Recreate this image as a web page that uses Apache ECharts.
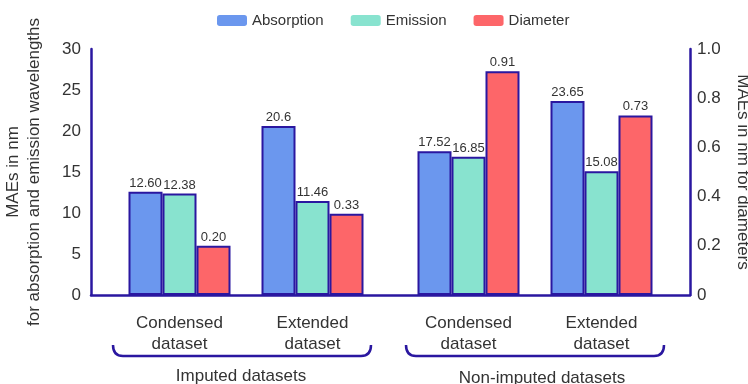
<!DOCTYPE html>
<html>
<head>
<meta charset="utf-8">
<script src="https://cdn.jsdelivr.net/npm/echarts@6/dist/echarts.min.js"></script>
<style>html,body{margin:0;padding:0;background:#fff}#c{width:748px;height:384px}</style>
</head>
<body>
<div id="c"></div>
<script>
// ---- data ----
const categories = ['Condensed\ndataset', 'Extended\ndataset'];
const groupNames = ['Imputed datasets', 'Non-imputed datasets'];
const seriesNames = ['Absorption', 'Emission', 'Diameter'];
const absorptionImputed = [12.60, 20.6];
const emissionImputed = [12.38, 11.46];
const diameterImputed = [0.20, 0.33];
const absorptionNonImputed = [17.52, 23.65];
const emissionNonImputed = [16.85, 15.08];
const diameterNonImputed = [0.91, 0.73];
const absorptionImputedLabels = ['12.60', '20.6'];
const emissionImputedLabels = ['12.38', '11.46'];
const diameterImputedLabels = ['0.20', '0.33'];
const absorptionNonImputedLabels = ['17.52', '23.65'];
const emissionNonImputedLabels = ['16.85', '15.08'];
const diameterNonImputedLabels = ['0.91', '0.73'];
const leftTicks = {min: 0, max: 30, interval: 5};
const rightTicks = {min: 0, max: 1, interval: 0.2};

// ---- styles ----
const FONT = 'Liberation Sans, Arial, sans-serif';
const NAVY = '#2a17a0';
const TXT = '#333';
const colors = ['#6b97ee', '#88e3cf', '#fd6669'];

const chart = echarts.init(document.getElementById('c'), null, {renderer: 'canvas'});

const gridBase = {top: 49, bottom: 89, containLabel: false, outerBoundsMode: 'none'};
function bar(name, xi, yi, data, labels, color) {
  return {
    type: 'bar', name, xAxisIndex: xi, yAxisIndex: yi, data,
    barWidth: 34, barGap: '0%',
    itemStyle: {color, borderColor: NAVY, borderWidth: 2},
    label: {show: true, position: 'top', distance: 2, color: TXT, fontFamily: FONT, fontSize: 13,
      formatter: p => labels[p.dataIndex]},
    z: 3
  };
}
function hiddenY(grid, t) {
  return {type: 'value', gridIndex: grid, min: t.min, max: t.max, interval: t.interval, show: false};
}
function brace(x1, x2, yTop, yBot, r) {
  const st = {stroke: NAVY, lineWidth: 2.5, fill: 'none'};
  return [
    {type: 'bezierCurve', shape: {x1: x1, y1: yTop, cpx1: x1, cpy1: yBot, x2: x1 + r, y2: yBot}, style: st},
    {type: 'line', shape: {x1: x1 + r, y1: yBot, x2: x2 - r, y2: yBot}, style: st},
    {type: 'bezierCurve', shape: {x1: x2 - r, y1: yBot, cpx1: x2, cpy1: yBot, x2: x2, y2: yTop}, style: st}
  ];
}
const catLabel = {margin: 18, fontSize: 17, lineHeight: 21, color: TXT, fontFamily: FONT};

chart.setOption({
  animation: false,
  textStyle: {fontFamily: FONT},
  legend: {
    data: seriesNames, left: 212, top: 8, itemWidth: 30, itemHeight: 11, itemGap: 27,
    itemStyle: {borderWidth: 0},
    textStyle: {fontSize: 15, color: TXT, fontFamily: FONT}
  },
  grid: [
    {left: 91, right: 58, ...gridBase},
    {left: 113, width: 266, ...gridBase},
    {left: 402, width: 266, ...gridBase}
  ],
  xAxis: [
    {type: 'category', gridIndex: 0, data: [''], axisLine: {lineStyle: {color: NAVY, width: 2.5}},
      axisTick: {show: false}, axisLabel: {show: false}},
    {type: 'category', gridIndex: 1, data: categories, axisLine: {show: false}, axisTick: {show: false}, axisLabel: catLabel},
    {type: 'category', gridIndex: 2, data: categories, axisLine: {show: false}, axisTick: {show: false}, axisLabel: catLabel}
  ],
  yAxis: [
    {type: 'value', gridIndex: 0, position: 'left', min: leftTicks.min, max: leftTicks.max, interval: leftTicks.interval,
      axisLine: {show: true, lineStyle: {color: NAVY, width: 2.5}}, axisTick: {show: false}, splitLine: {show: false},
      axisLabel: {fontSize: 17, color: TXT, margin: 10, fontFamily: FONT},
      name: 'MAEs in nm\nfor absorption and emission wavelengths', nameLocation: 'middle', nameRotate: 90, nameGap: 46,
      nameTextStyle: {fontSize: 17, color: TXT, lineHeight: 21, fontFamily: FONT}},
    {type: 'value', gridIndex: 0, position: 'right', min: rightTicks.min, max: rightTicks.max, interval: rightTicks.interval,
      axisLine: {show: true, lineStyle: {color: NAVY, width: 2.5}}, axisTick: {show: false}, splitLine: {show: false},
      axisLabel: {fontSize: 17, color: TXT, margin: 7, fontFamily: FONT, formatter: v => v === 0 ? '0' : v.toFixed(1)},
      name: 'MAEs in nm for diameters', nameLocation: 'middle', nameRotate: -90, nameGap: 44,
      nameTextStyle: {fontSize: 17, color: TXT, fontFamily: FONT}},
    hiddenY(1, leftTicks), hiddenY(1, rightTicks),
    hiddenY(2, leftTicks), hiddenY(2, rightTicks)
  ],
  series: [
    bar(seriesNames[0], 1, 2, absorptionImputed, absorptionImputedLabels, colors[0]),
    bar(seriesNames[1], 1, 2, emissionImputed, emissionImputedLabels, colors[1]),
    bar(seriesNames[2], 1, 3, diameterImputed, diameterImputedLabels, colors[2]),
    bar(seriesNames[0], 2, 4, absorptionNonImputed, absorptionNonImputedLabels, colors[0]),
    bar(seriesNames[1], 2, 4, emissionNonImputed, emissionNonImputedLabels, colors[1]),
    bar(seriesNames[2], 2, 5, diameterNonImputed, diameterNonImputedLabels, colors[2])
  ],
  graphic: [
    ...brace(113, 371, 345, 356, 10),
    ...brace(406, 664, 345, 356, 10),
    {type: 'text', x: 241, y: 376, style: {text: groupNames[0], fill: TXT, font: '17px ' + FONT, align: 'center', verticalAlign: 'middle'}},
    {type: 'text', x: 542, y: 378, style: {text: groupNames[1], fill: TXT, font: '17px ' + FONT, align: 'center', verticalAlign: 'middle'}}
  ]
});
</script>
</body>
</html>
